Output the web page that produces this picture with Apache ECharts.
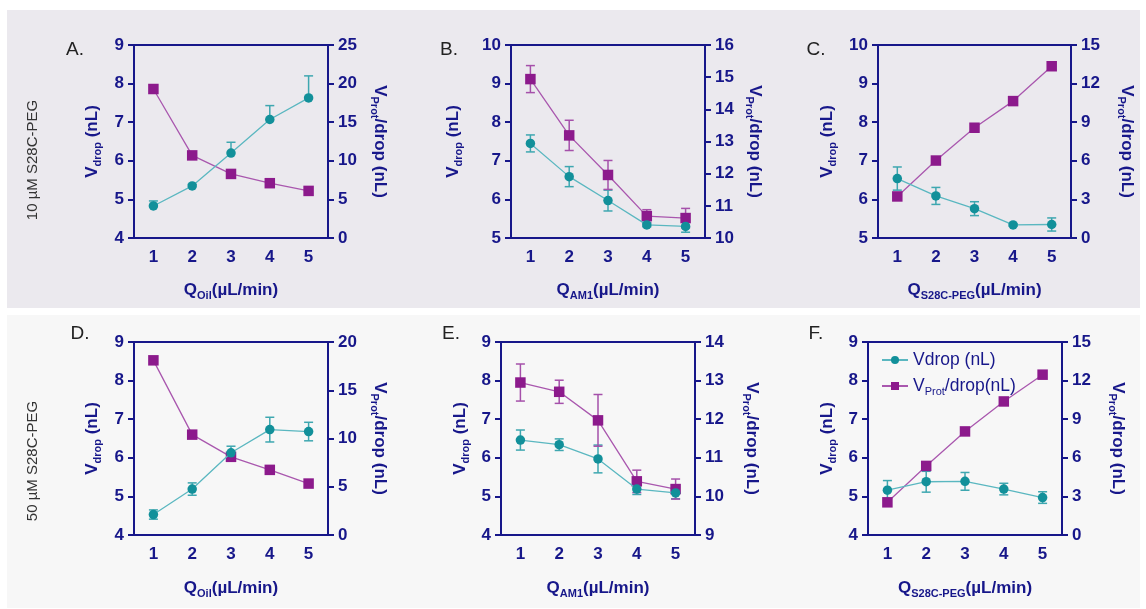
<!DOCTYPE html>
<html><head><meta charset="utf-8">
<script src="https://cdn.jsdelivr.net/npm/echarts@6/dist/echarts.min.js"></script>
<style>html,body{margin:0;padding:0;background:#fff}#c{width:1146px;height:609px}</style>
</head><body><div id="c"></div>
<script>
// ---------- DATA ----------
const categories = ['1', '2', '3', '4', '5'];

const A_vdrop = [4.83, 5.35, 6.20, 7.07, 7.63];
const A_vdropErr = [0.13, 0.04, 0.28, 0.36, 0.57];
const A_vprot = [19.3, 10.7, 8.3, 7.1, 6.1];

const B_vdrop = [7.45, 6.59, 5.97, 5.34, 5.30];
const B_vdropErr = [0.22, 0.26, 0.27, 0.05, 0.15];
const B_vprot = [14.94, 13.19, 11.96, 10.68, 10.62];
const B_vprotErr = [0.42, 0.47, 0.45, 0.20, 0.30];

const C_vdrop = [6.54, 6.09, 5.76, 5.34, 5.35];
const C_vdropErr = [0.30, 0.22, 0.18, 0.03, 0.17];
const C_vprot = [3.23, 6.02, 8.57, 10.64, 13.35];

const D_vdrop = [4.53, 5.19, 6.13, 6.73, 6.68];
const D_vdropErr = [0.12, 0.16, 0.17, 0.32, 0.24];
const D_vprot = [18.1, 10.4, 8.1, 6.75, 5.33];

const E_vdrop = [6.46, 6.34, 5.97, 5.19, 5.09];
const E_vdropErr = [0.26, 0.15, 0.36, 0.14, 0.15];
const E_vprot = [12.95, 12.71, 11.97, 10.39, 10.19];
const E_vprotErr = [0.48, 0.30, 0.67, 0.29, 0.26];

const F_vdrop = [5.16, 5.38, 5.39, 5.19, 4.97];
const F_vdropErr = [0.25, 0.27, 0.23, 0.15, 0.15];
const F_vprot = [2.54, 5.37, 8.05, 10.38, 12.46];

// axis ranges [min, max, interval]
const A_leftRange = [4, 9, 1],  A_rightRange = [0, 25, 5];
const B_leftRange = [5, 10, 1], B_rightRange = [10, 16, 1];
const C_leftRange = [5, 10, 1], C_rightRange = [0, 15, 3];
const D_leftRange = [4, 9, 1],  D_rightRange = [0, 20, 5];
const E_leftRange = [4, 9, 1],  E_rightRange = [9, 14, 1];
const F_leftRange = [4, 9, 1],  F_rightRange = [0, 15, 3];

const xSubs = ['Oil', 'AM1', 'S28C-PEG', 'Oil', 'AM1', 'S28C-PEG'];
const panelLetters = ['A.', 'B.', 'C.', 'D.', 'E.', 'F.'];
const rowLabels = ['10 µM S28C-PEG', '50 µM S28C-PEG'];
const seriesNames = ['Vdrop (nL)', 'VProt/drop(nL)'];

// ---------- STYLE ----------
const NAVY = '#17178a';
const FONT = '"Liberation Sans", Arial, Helvetica, sans-serif';
const TEAL = '#12909a', TEAL_LINE = '#5ab7c0', TEAL_ERR = '#3ea7b0';
const PURP = '#8c1a8c', PURP_LINE = '#a957ae', PURP_ERR = '#a550aa';

const panels = [
  {grid:{left:134,top:45,width:194,height:193}, vd:A_vdrop, vdE:A_vdropErr, vp:A_vprot, vpE:null, L:A_leftRange, R:A_rightRange, upOnly:true, lgap:31, rgap:41, xgap:41, letter:[75,50]},
  {grid:{left:511,top:45,width:194,height:193}, vd:B_vdrop, vdE:B_vdropErr, vp:B_vprot, vpE:B_vprotErr, L:B_leftRange, R:B_rightRange, upOnly:false, lgap:47, rgap:39, xgap:41, letter:[449,50]},
  {grid:{left:878,top:45,width:193,height:193}, vd:C_vdrop, vdE:C_vdropErr, vp:C_vprot, vpE:null, L:C_leftRange, R:C_rightRange, upOnly:false, lgap:40, rgap:45, xgap:41, letter:[816,50]},
  {grid:{left:134,top:342,width:194,height:193}, vd:D_vdrop, vdE:D_vdropErr, vp:D_vprot, vpE:null, L:D_leftRange, R:D_rightRange, upOnly:false, lgap:31, rgap:41, xgap:42, letter:[80,334]},
  {grid:{left:501,top:342,width:194,height:193}, vd:E_vdrop, vdE:E_vdropErr, vp:E_vprot, vpE:E_vprotErr, L:E_leftRange, R:E_rightRange, upOnly:false, lgap:30, rgap:46, xgap:42, letter:[451,334]},
  {grid:{left:868,top:342,width:194,height:193}, vd:F_vdrop, vdE:F_vdropErr, vp:F_vprot, vpE:null, L:F_leftRange, R:F_rightRange, upOnly:false, lgap:30, rgap:45, xgap:42, letter:[816,334]}
];

const nameRich = {
  b: {fontSize:17, fontWeight:'bold', fontFamily:FONT, color:NAVY, lineHeight:22},
  s: {fontSize:11, fontWeight:'bold', fontFamily:FONT, color:NAVY, lineHeight:10, verticalAlign:'bottom'}
};
const labelStyle = {color:NAVY, fontWeight:'bold', fontSize:17, fontFamily:FONT};

function errRender(upOnly, color) {
  return function (params, api) {
    const k = api.value(0), v = api.value(1), e = api.value(2);
    const hi = api.coord([k, v + e]);
    const lo = api.coord([k, upOnly ? v : v - e]);
    const w = 4.5;
    const st = {stroke: color, lineWidth: 1.5};
    const ch = [
      {type:'line', shape:{x1:hi[0], y1:hi[1], x2:lo[0], y2:lo[1]}, style:st},
      {type:'line', shape:{x1:hi[0]-w, y1:hi[1], x2:hi[0]+w, y2:hi[1]}, style:st}
    ];
    if (!upOnly) ch.push({type:'line', shape:{x1:lo[0]-w, y1:lo[1], x2:lo[0]+w, y2:lo[1]}, style:st});
    return {type:'group', children: ch};
  };
}

const grid = [], xAxis = [], yAxis = [], series = [], graphic = [];

graphic.push({type:'rect', shape:{x:7, y:10, width:1133, height:298}, style:{fill:'#ebe9ee'}, z:-10, silent:true});
graphic.push({type:'rect', shape:{x:7, y:315, width:1133, height:293}, style:{fill:'#f7f7f7'}, z:-10, silent:true});
graphic.push({type:'text', x:33, y:160, rotation:Math.PI/2, style:{text:rowLabels[0], fill:'#333', font:'15px ' + FONT, textAlign:'center', textVerticalAlign:'middle'}, z:5});
graphic.push({type:'text', x:33, y:461, rotation:Math.PI/2, style:{text:rowLabels[1], fill:'#333', font:'15px ' + FONT, textAlign:'center', textVerticalAlign:'middle'}, z:5});

panels.forEach((p, i) => {
  grid.push(Object.assign({show:true, borderColor:NAVY, borderWidth:2, backgroundColor:'transparent'}, p.grid));
  graphic.push({type:'text', x:p.letter[0], y:p.letter[1], style:{text:panelLetters[i], fill:'#222', font:'19px ' + FONT, textAlign:'center', textVerticalAlign:'middle'}, z:5});
  xAxis.push({
    type:'category', gridIndex:i, data:categories, boundaryGap:true,
    axisLine:{lineStyle:{color:NAVY, width:2}},
    axisTick:{alignWithLabel:true, length:6, lineStyle:{color:NAVY, width:2}},
    axisLabel:Object.assign({margin:11}, labelStyle),
    name:'{b|Q}{s|' + xSubs[i] + '}{b|(µL/min)}', nameLocation:'middle', nameGap:p.xgap,
    nameTextStyle:{rich:nameRich}
  });
  const yBase = {
    type:'value', gridIndex:i, splitLine:{show:false},
    axisLine:{show:true, lineStyle:{color:NAVY, width:2}},
    axisTick:{show:true, length:6, lineStyle:{color:NAVY, width:2}},
    axisLabel:Object.assign({margin:10}, labelStyle),
    nameLocation:'middle', nameTextStyle:{rich:nameRich}
  };
  yAxis.push(Object.assign({}, yBase, {position:'left', min:p.L[0], max:p.L[1], interval:p.L[2],
    name:'{b|V}{s|drop}{b| (nL)}', nameGap:p.lgap}));
  yAxis.push(Object.assign({}, yBase, {position:'right', min:p.R[0], max:p.R[1], interval:p.R[2],
    name:'{b|V}{s|Prot}{b|/drop (nL)}', nameGap:p.rgap, nameRotate:-90}));

  // error bars (behind markers)
  series.push({type:'custom', xAxisIndex:i, yAxisIndex:2*i, silent:true, z:1, animation:false,
    renderItem:errRender(p.upOnly, TEAL_ERR), encode:{x:0, y:1},
    data:p.vd.map((v, k) => [k, v, p.vdE[k]])});
  if (p.vpE) {
    series.push({type:'custom', xAxisIndex:i, yAxisIndex:2*i+1, silent:true, z:1, animation:false,
      renderItem:errRender(p.upOnly, PURP_ERR), encode:{x:0, y:1},
      data:p.vp.map((v, k) => [k, v, p.vpE[k]])});
  }
  series.push({type:'line', name:seriesNames[1], xAxisIndex:i, yAxisIndex:2*i+1, data:p.vp,
    symbol:'rect', symbolSize:10.5, itemStyle:{color:PURP}, lineStyle:{color:PURP_LINE, width:1.3},
    z:3, animation:false, silent:true});
  series.push({type:'line', name:seriesNames[0], xAxisIndex:i, yAxisIndex:2*i, data:p.vd,
    symbol:'circle', symbolSize:9.5, itemStyle:{color:TEAL}, lineStyle:{color:TEAL_LINE, width:1.3},
    z:4, animation:false, silent:true});
});

const legendRich = {
  n: {fontSize:17.5, fontFamily:FONT, color:NAVY, lineHeight:22},
  s: {fontSize:11, fontFamily:FONT, color:NAVY, lineHeight:10, verticalAlign:'bottom'}
};

const option = {
  animation:false,
  grid, xAxis, yAxis, series, graphic,
  legend:{
    data:[seriesNames[0], seriesNames[1]], orient:'vertical', left:876, top:346,
    itemWidth:26, itemHeight:10, itemGap:8, selectedMode:false,
    textStyle:{rich:legendRich},
    formatter:function (name) {
      return name === seriesNames[0] ? '{n|Vdrop (nL)}' : '{n|V}{s|Prot}{n|/drop(nL)}';
    }
  }
};
echarts.init(document.getElementById('c'), null, {renderer:'canvas'}).setOption(option);
</script></body></html>
